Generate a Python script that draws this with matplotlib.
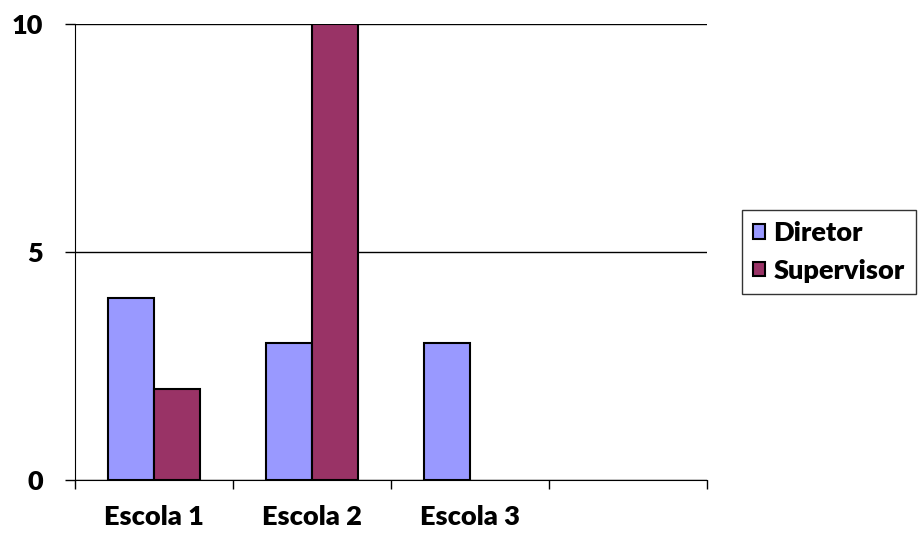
import matplotlib.pyplot as plt
import numpy as np

categories = ["Escola 1", "Escola 2", "Escola 3"]
diretor = [4, 3, 3]
supervisor = [2, 10, 0]
n_slots = 4
yticks = [0, 5, 10]

plt.rcParams['font.family'] = ['Lato', 'DejaVu Sans']
plt.rcParams['font.weight'] = 'heavy'

fig = plt.figure(figsize=(9.19, 5.36), dpi=100)
ax = fig.add_axes((0.0816, 0.1045, 0.6877, 0.8507))

x = np.arange(len(categories)) + 0.5
w = 0.29
ax.bar(x - w / 2, diretor, w, color='#9999FF', edgecolor='black', linewidth=1.5,
       label='Diretor', zorder=3)
sup = np.array(supervisor, dtype=float)
sup[sup == 0] = np.nan
ax.bar(x + w / 2, sup, w, color='#993366', edgecolor='black', linewidth=1.5,
       label='Supervisor', zorder=3)

ax.set_xlim(0, n_slots)
ax.set_ylim(0, 10)
ax.set_yticks(yticks)
ax.set_yticklabels([str(v) for v in yticks], fontsize=19.5, fontweight='heavy')
ax.set_xticks(np.arange(n_slots + 1))
ax.set_xticklabels([])
ax.set_xticks(x, minor=True)
ax.set_xticklabels(categories, minor=True, fontsize=19.5, fontweight='heavy')
ax.tick_params(axis='x', which='minor', length=0, pad=18)
ax.tick_params(axis='x', which='major', length=6.5, width=1, direction='out')
ax.tick_params(axis='y', length=7, width=1, direction='out', pad=16)

ax.grid(axis='y', color='black', linewidth=1, zorder=0)
ax.spines['top'].set_visible(False)
ax.spines['right'].set_visible(False)

leg = ax.legend(loc='center left', bbox_to_anchor=(1.056, 0.5), frameon=True,
                fancybox=False, edgecolor='black', fontsize=19.5,
                handlelength=0.45, handleheight=0.45, handletextpad=0.3,
                borderpad=0.4, labelspacing=0.5, borderaxespad=0)
leg.get_frame().set_linewidth(1)
for t in leg.get_texts():
    t.set_fontweight('heavy')

plt.savefig('out.png', dpi=100)
